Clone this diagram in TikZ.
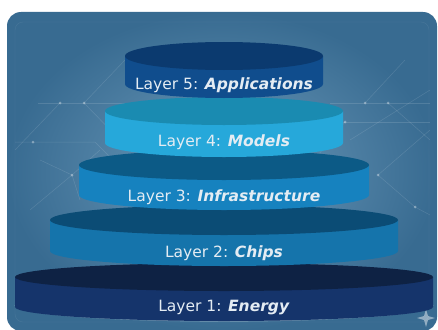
\documentclass[tikz,border=0pt]{standalone}
\usepackage{fontspec}
\setmainfont{DejaVu Sans}
\usepackage{xcolor}
\usetikzlibrary{positioning}

% colours of the picture
\definecolor{bgout}{HTML}{386B91}
\definecolor{bgin}{HTML}{6D9BBB}
\definecolor{labelgray}{HTML}{E4ECF3}
\definecolor{topfive}{HTML}{0B3A6F}
\definecolor{sidefive}{HTML}{104D8D}
\definecolor{topfour}{HTML}{1A8BB1}
\definecolor{sidefour}{HTML}{26A8DA}
\definecolor{topthree}{HTML}{0C5A86}
\definecolor{sidethree}{HTML}{1682BF}
\definecolor{toptwo}{HTML}{0B4C75}
\definecolor{sidetwo}{HTML}{1574AB}
\definecolor{topone}{HTML}{0E2244}
\definecolor{sideone}{HTML}{15346B}

% one disc of the stack: x radius, top centre y, y radius, height, top colour, side colour
\newcommand{\drawdisc}[6]{%
  \fill[#6] (224-#1,#2) -- (224-#1,#2+#4)
    arc[start angle=180, end angle=0, x radius=#1, y radius=#3]
    -- (224+#1,#2) -- cycle;
  \fill[#5] (224,#2) ellipse[x radius=#1, y radius=#3];
}

\begin{document}
\begin{tikzpicture}[x=1pt, y=-1pt,
    layertext/.style={text=labelgray, font=\fontsize{15.5}{17}\selectfont},
    circuit/.style={white, opacity=0.13, line width=0.5pt},
    dot/.style={white, opacity=0.35}]
        \useasboundingbox (0,0) rectangle (438,329);
        \fill[white] (0,0) rectangle (438,329);

        % Panel behind the stack
        \shade[rounded corners=14pt, inner color=bgin, outer color=bgout] (7,12) rectangle (437,331);
        \draw[white, opacity=0.08, rounded corners=8pt] (15,22) rectangle (429,322);

        % Faint circuit lines, left
        \draw[circuit] (38,103) -- (125,103);
        \draw[circuit] (60,103) -- (15,150);
        \draw[circuit] (84,103) -- (125,60);
        \draw[circuit] (84,103) -- (125,145);
        \draw[circuit] (15,142) -- (95,142) -- (125,172);
        \draw[circuit] (30,210) -- (72,175) -- (100,150);
        \draw[circuit] (40,160) -- (72,175) -- (80,200);
        \fill[dot] (60,103) circle (1.5);
        \fill[dot] (84,103) circle (1.5);
        \fill[dot] (33,142) circle (1.5);
        \fill[dot] (72,175) circle (1.5);

        % Faint circuit lines, right
        \draw[circuit] (330,103) -- (430,103);
        \draw[circuit] (365,103) -- (405,60);
        \draw[circuit] (388,103) -- (430,140);
        \draw[circuit] (330,122) -- (430,122);
        \draw[circuit] (345,122) -- (310,165);
        \draw[circuit] (350,140) -- (430,90);
        \draw[circuit] (378,175) -- (430,130);
        \draw[circuit] (378,175) -- (415,207) -- (430,215);
        \fill[dot] (365,103) circle (1.5);
        \fill[dot] (388,103) circle (1.5);
        \fill[dot] (345,122) circle (1.5);
        \fill[dot] (378,175) circle (1.5);
        \fill[dot] (415,207) circle (1.5);

        % Sparkle in the corner
        \fill[white, opacity=0.45] (426,309) -- (428,316) -- (435,318) -- (428,320)
            -- (426,327) -- (424,320) -- (417,318) -- (424,316) -- cycle;

        % The stack, from the bottom up
        \draw[white, opacity=0.3, line width=1.2pt] (15,305)
            arc[start angle=180, end angle=0, x radius=209, y radius=16];
        \drawdisc{209}{277}{14}{30}{topone}{sideone}
        \drawdisc{174}{220}{15}{31}{toptwo}{sidetwo}
        \drawdisc{145}{165}{15}{30}{topthree}{sidethree}
        \drawdisc{119}{111}{14}{32}{topfour}{sidefour}
        \drawdisc{99}{56}{14}{28}{topfive}{sidefive}

        % Labels on the discs
        \node[layertext] (energy) at (224,308) {Layer 1: \textbf{\textit{Energy}}};
        \node[layertext] (chips) at (224,253) {Layer 2: \textbf{\textit{Chips}}};
        \node[layertext] (infra) at (224,197) {Layer 3: \textbf{\textit{Infrastructure}}};
        \node[layertext] (models) at (224,142) {Layer 4: \textbf{\textit{Models}}};
        \node[layertext] (apps) at (224,85) {Layer 5: \textbf{\textit{Applications}}};

    \end{tikzpicture}
\end{document}
